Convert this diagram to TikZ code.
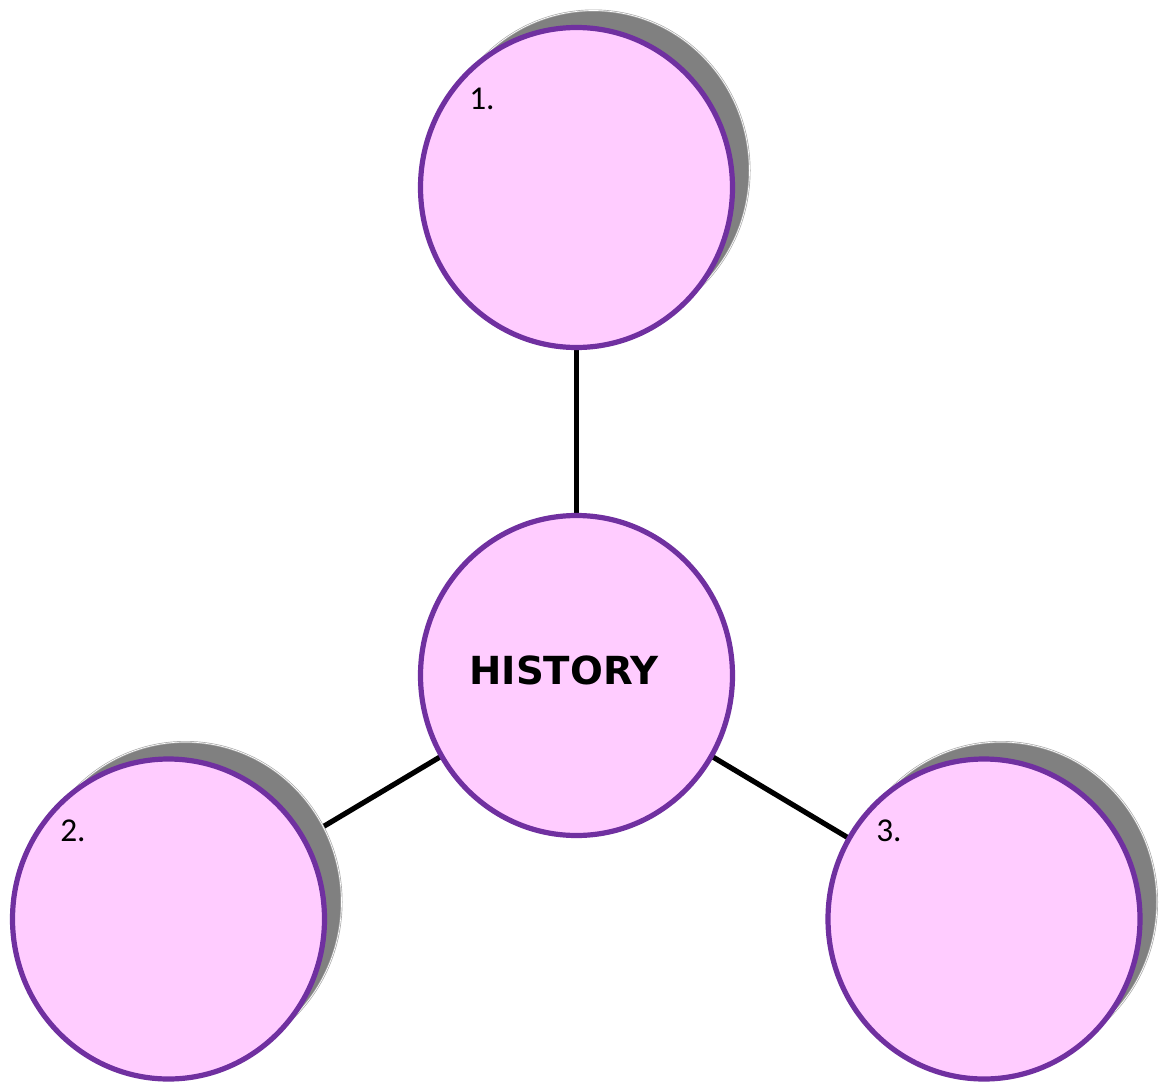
\documentclass[tikz,border=0pt]{standalone}
\usepackage{fontspec}
\setmainfont{Carlito}
\newfontfamily\titlefont{DejaVu Sans}
\usetikzlibrary{shapes.geometric,shadows,backgrounds}
\definecolor{bubblepink}{HTML}{FFCCFF}
\definecolor{bubblepurple}{HTML}{7030A0}
\definecolor{shadowgray}{HTML}{808080}
\tikzset{
  bubble/.style={ellipse, draw=bubblepurple, fill=bubblepink, line width=3.9pt,
    minimum width=234pt, minimum height=240pt, inner sep=0pt},
  shadowed/.style={drop shadow={shadow xshift=12.75pt, shadow yshift=12.75pt,
    fill=shadowgray, draw=gray!70, double=white, double distance=0.5pt,
    line width=0.5pt, opacity=1}},
  link/.style={line width=3.9pt, black},
  numtext/.style={anchor=base west, inner sep=0pt, font=\fontsize{25pt}{28pt}\selectfont},
}
\begin{document}
\begin{tikzpicture}[x=0.75pt, y=-0.75pt]
\useasboundingbox (0,0) rectangle (1160,1085);
% Draw the bubbles
\node[bubble, shadowed] (top) at (576.5,187.5) {};
\node[bubble] (mid) at (576.5,675.5) {};
\node[bubble, shadowed] (left) at (168.5,919) {};
\node[bubble, shadowed] (right) at (984,919) {};
% Draw the links behind the bubbles
\begin{pgfonlayer}{background}
\draw[link] (mid.center) -- (top.center);
\draw[link] (mid.center) -- (left.center);
\draw[link] (mid.center) -- (right.center);
\end{pgfonlayer}
% Draw the texts
\node[font=\titlefont\bfseries\fontsize{29pt}{33pt}\selectfont, inner sep=0pt] (title) at (564,670) {HISTORY};
\node[numtext] (one) at (469,109) {1.};
\node[numtext] (two) at (60,841) {2.};
\node[numtext] (three) at (876,841) {3.};
\end{tikzpicture}
\end{document}
